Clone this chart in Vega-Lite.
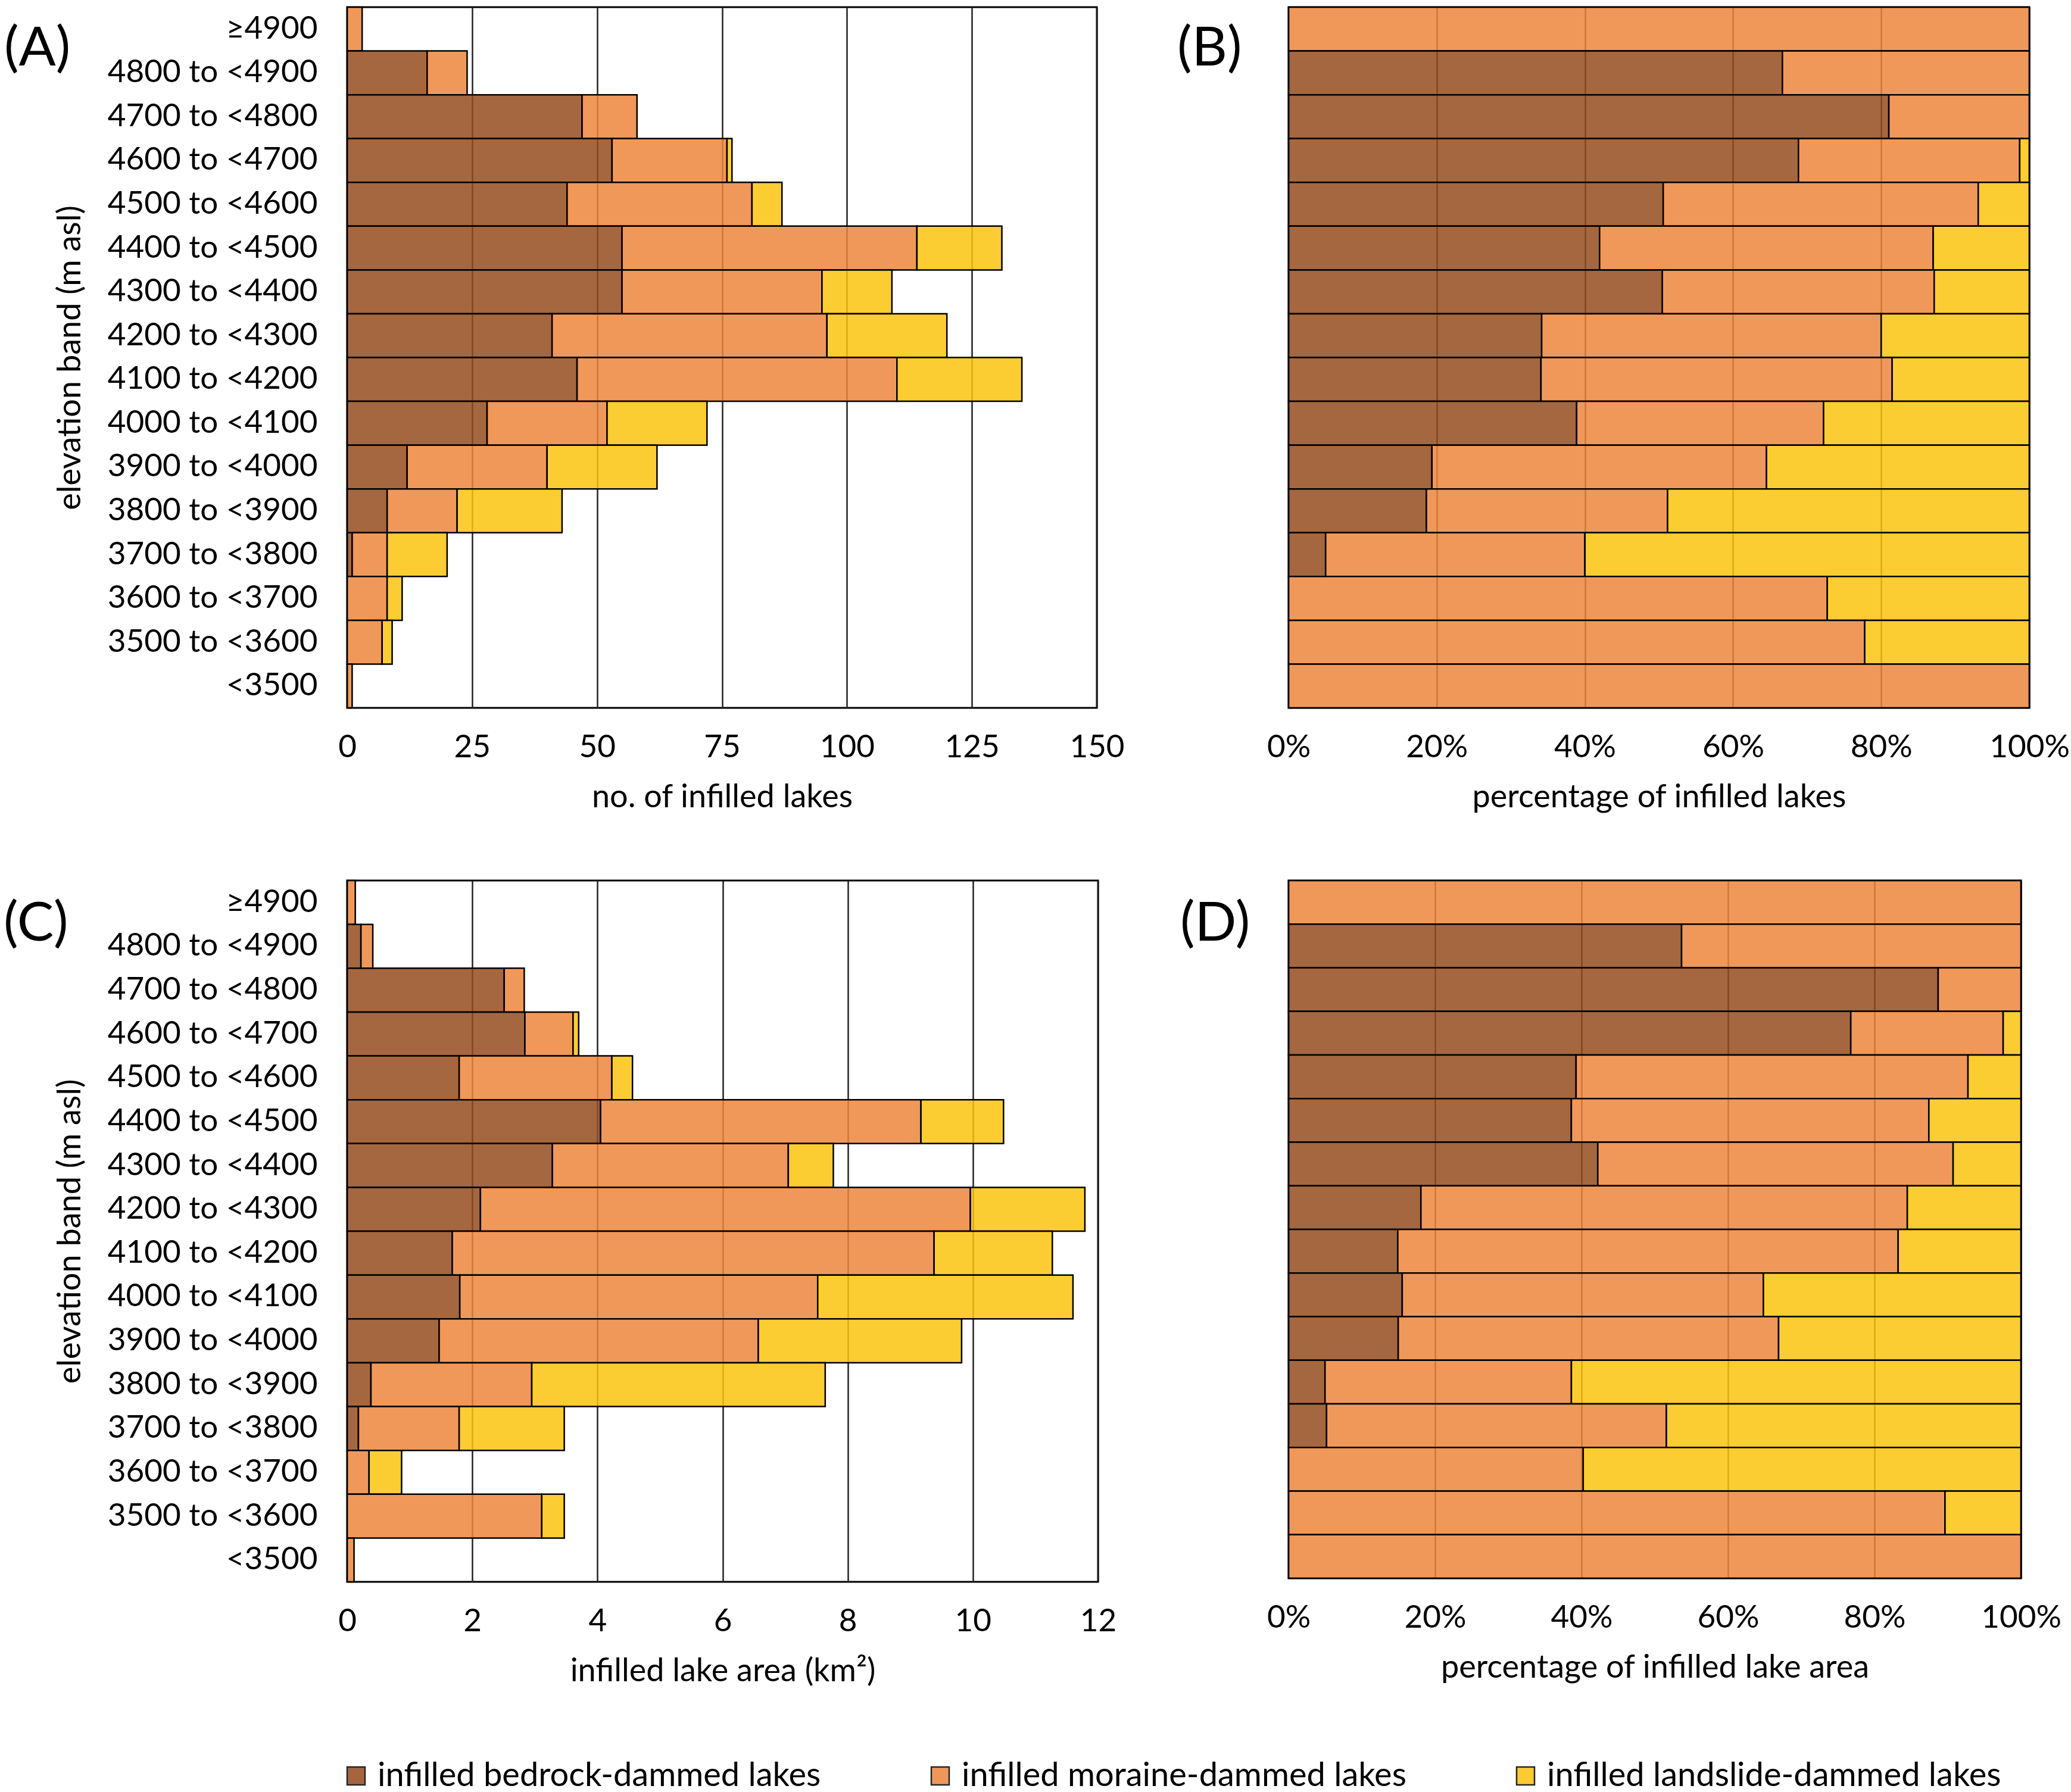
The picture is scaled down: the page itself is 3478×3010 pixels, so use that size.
{
  "$schema": "https://vega.github.io/schema/vega-lite/v6.json",
  "padding": {"left": 4, "top": 9, "right": 0, "bottom": 0},
  "background": "white",
  "data": {
    "values": [
      {"band": "≥4900", "dam": "infilled moraine-dammed lakes", "n": 3, "area": 0.13},
      {"band": "4800 to <4900", "dam": "infilled bedrock-dammed lakes", "n": 16, "area": 0.22},
      {"band": "4800 to <4900", "dam": "infilled moraine-dammed lakes", "n": 8, "area": 0.19},
      {"band": "4700 to <4800", "dam": "infilled bedrock-dammed lakes", "n": 47, "area": 2.51},
      {"band": "4700 to <4800", "dam": "infilled moraine-dammed lakes", "n": 11, "area": 0.32},
      {"band": "4600 to <4700", "dam": "infilled bedrock-dammed lakes", "n": 53, "area": 2.84},
      {"band": "4600 to <4700", "dam": "infilled moraine-dammed lakes", "n": 23, "area": 0.77},
      {"band": "4600 to <4700", "dam": "infilled landslide-dammed lakes", "n": 1, "area": 0.09},
      {"band": "4500 to <4600", "dam": "infilled bedrock-dammed lakes", "n": 44, "area": 1.79},
      {"band": "4500 to <4600", "dam": "infilled moraine-dammed lakes", "n": 37, "area": 2.44},
      {"band": "4500 to <4600", "dam": "infilled landslide-dammed lakes", "n": 6, "area": 0.33},
      {"band": "4400 to <4500", "dam": "infilled bedrock-dammed lakes", "n": 55, "area": 4.05},
      {"band": "4400 to <4500", "dam": "infilled moraine-dammed lakes", "n": 59, "area": 5.12},
      {"band": "4400 to <4500", "dam": "infilled landslide-dammed lakes", "n": 17, "area": 1.32},
      {"band": "4300 to <4400", "dam": "infilled bedrock-dammed lakes", "n": 55, "area": 3.28},
      {"band": "4300 to <4400", "dam": "infilled moraine-dammed lakes", "n": 40, "area": 3.77},
      {"band": "4300 to <4400", "dam": "infilled landslide-dammed lakes", "n": 14, "area": 0.72},
      {"band": "4200 to <4300", "dam": "infilled bedrock-dammed lakes", "n": 41, "area": 2.13},
      {"band": "4200 to <4300", "dam": "infilled moraine-dammed lakes", "n": 55, "area": 7.83},
      {"band": "4200 to <4300", "dam": "infilled landslide-dammed lakes", "n": 24, "area": 1.83},
      {"band": "4100 to <4200", "dam": "infilled bedrock-dammed lakes", "n": 46, "area": 1.68},
      {"band": "4100 to <4200", "dam": "infilled moraine-dammed lakes", "n": 64, "area": 7.70},
      {"band": "4100 to <4200", "dam": "infilled landslide-dammed lakes", "n": 25, "area": 1.89},
      {"band": "4000 to <4100", "dam": "infilled bedrock-dammed lakes", "n": 28, "area": 1.80},
      {"band": "4000 to <4100", "dam": "infilled moraine-dammed lakes", "n": 24, "area": 5.72},
      {"band": "4000 to <4100", "dam": "infilled landslide-dammed lakes", "n": 20, "area": 4.08},
      {"band": "3900 to <4000", "dam": "infilled bedrock-dammed lakes", "n": 12, "area": 1.47},
      {"band": "3900 to <4000", "dam": "infilled moraine-dammed lakes", "n": 28, "area": 5.10},
      {"band": "3900 to <4000", "dam": "infilled landslide-dammed lakes", "n": 22, "area": 3.25},
      {"band": "3800 to <3900", "dam": "infilled bedrock-dammed lakes", "n": 8, "area": 0.38},
      {"band": "3800 to <3900", "dam": "infilled moraine-dammed lakes", "n": 14, "area": 2.57},
      {"band": "3800 to <3900", "dam": "infilled landslide-dammed lakes", "n": 21, "area": 4.69},
      {"band": "3700 to <3800", "dam": "infilled bedrock-dammed lakes", "n": 1, "area": 0.18},
      {"band": "3700 to <3800", "dam": "infilled moraine-dammed lakes", "n": 7, "area": 1.61},
      {"band": "3700 to <3800", "dam": "infilled landslide-dammed lakes", "n": 12, "area": 1.68},
      {"band": "3600 to <3700", "dam": "infilled moraine-dammed lakes", "n": 8, "area": 0.35},
      {"band": "3600 to <3700", "dam": "infilled landslide-dammed lakes", "n": 3, "area": 0.52},
      {"band": "3500 to <3600", "dam": "infilled moraine-dammed lakes", "n": 7, "area": 3.11},
      {"band": "3500 to <3600", "dam": "infilled landslide-dammed lakes", "n": 2, "area": 0.36},
      {"band": "<3500", "dam": "infilled moraine-dammed lakes", "n": 1, "area": 0.11}
    ]
  },
  "columns": 2,
  "spacing": {"row": 290, "column": 320},
  "bounds": "flush",
  "concat": [
    {
      "width": 1259,
      "height": 1177,
      "title": {"text": "(A)", "anchor": "start", "frame": "group", "offset": -118, "dx": -576},
      "transform": [
        {"calculate": "indexof(['infilled bedrock-dammed lakes','infilled moraine-dammed lakes','infilled landslide-dammed lakes'], datum.dam)", "as": "rank"}
      ],
      "mark": {"type": "bar", "fillOpacity": 0.85, "stroke": "black", "strokeWidth": 2.5},
      "encoding": {
        "y": {
          "field": "band", "type": "nominal",
          "sort": ["≥4900", "4800 to <4900", "4700 to <4800", "4600 to <4700", "4500 to <4600", "4400 to <4500", "4300 to <4400", "4200 to <4300", "4100 to <4200", "4000 to <4100", "3900 to <4000", "3800 to <3900", "3700 to <3800", "3600 to <3700", "3500 to <3600", "<3500"],
          "scale": {"paddingInner": 0, "paddingOuter": 0},
          "axis": {"title": "elevation band (m asl)", "labelPadding": 50, "titlePadding": 40, "minExtent": 398, "maxExtent": 398}
        },
        "x": {
          "field": "n", "type": "quantitative", "stack": "zero",
          "scale": {"domain": [0, 150], "nice": false},
          "axis": {"title": "no. of infilled lakes", "values": [0, 25, 50, 75, 100, 125, 150], "grid": true}
        },
        "color": {
          "field": "dam", "type": "nominal",
          "scale": {
            "domain": ["infilled bedrock-dammed lakes", "infilled moraine-dammed lakes", "infilled landslide-dammed lakes"],
            "range": ["#944c1d", "#ed863d", "#fcc30f"]
          },
          "legend": {
            "title": null, "orient": "none", "direction": "horizontal",
            "legendX": -13, "legendY": 2943
          }
        },
        "order": {"field": "rank", "type": "quantitative"}
      }
    },
    {
      "width": 1244,
      "height": 1177,
      "title": {"text": "(B)", "anchor": "start", "frame": "group", "offset": -118, "dx": -187},
      "transform": [
        {"calculate": "indexof(['infilled bedrock-dammed lakes','infilled moraine-dammed lakes','infilled landslide-dammed lakes'], datum.dam)", "as": "rank"}
      ],
      "mark": {"type": "bar", "fillOpacity": 0.85, "stroke": "black", "strokeWidth": 2.5},
      "encoding": {
        "y": {
          "field": "band", "type": "nominal",
          "sort": ["≥4900", "4800 to <4900", "4700 to <4800", "4600 to <4700", "4500 to <4600", "4400 to <4500", "4300 to <4400", "4200 to <4300", "4100 to <4200", "4000 to <4100", "3900 to <4000", "3800 to <3900", "3700 to <3800", "3600 to <3700", "3500 to <3600", "<3500"],
          "scale": {"paddingInner": 0, "paddingOuter": 0},
          "axis": null
        },
        "x": {
          "field": "n", "type": "quantitative", "stack": "normalize",
          "scale": {"domain": [0, 1], "nice": false},
          "axis": {"title": "percentage of infilled lakes", "format": ".0%", "values": [0, 0.2, 0.4, 0.6, 0.8, 1], "grid": true}
        },
        "color": {"field": "dam", "type": "nominal"},
        "order": {"field": "rank", "type": "quantitative"}
      }
    },
    {
      "width": 1261,
      "height": 1178,
      "title": {"text": "(C)", "anchor": "start", "frame": "group", "offset": -121, "dx": -577},
      "transform": [
        {"calculate": "indexof(['infilled bedrock-dammed lakes','infilled moraine-dammed lakes','infilled landslide-dammed lakes'], datum.dam)", "as": "rank"}
      ],
      "mark": {"type": "bar", "fillOpacity": 0.85, "stroke": "black", "strokeWidth": 2.5},
      "encoding": {
        "y": {
          "field": "band", "type": "nominal",
          "sort": ["≥4900", "4800 to <4900", "4700 to <4800", "4600 to <4700", "4500 to <4600", "4400 to <4500", "4300 to <4400", "4200 to <4300", "4100 to <4200", "4000 to <4100", "3900 to <4000", "3800 to <3900", "3700 to <3800", "3600 to <3700", "3500 to <3600", "<3500"],
          "scale": {"paddingInner": 0, "paddingOuter": 0},
          "axis": {"title": "elevation band (m asl)", "labelPadding": 50, "titlePadding": 40, "minExtent": 398, "maxExtent": 398}
        },
        "x": {
          "field": "area", "type": "quantitative", "stack": "zero",
          "scale": {"domain": [0, 12], "nice": false},
          "axis": {"title": "infilled lake area (km²)", "values": [0, 2, 4, 6, 8, 10, 12], "grid": true}
        },
        "color": {"field": "dam", "type": "nominal"},
        "order": {"field": "rank", "type": "quantitative"}
      }
    },
    {
      "width": 1230,
      "height": 1172,
      "title": {"text": "(D)", "anchor": "start", "frame": "group", "offset": -121, "dx": -182},
      "transform": [
        {"calculate": "indexof(['infilled bedrock-dammed lakes','infilled moraine-dammed lakes','infilled landslide-dammed lakes'], datum.dam)", "as": "rank"}
      ],
      "mark": {"type": "bar", "fillOpacity": 0.85, "stroke": "black", "strokeWidth": 2.5},
      "encoding": {
        "y": {
          "field": "band", "type": "nominal",
          "sort": ["≥4900", "4800 to <4900", "4700 to <4800", "4600 to <4700", "4500 to <4600", "4400 to <4500", "4300 to <4400", "4200 to <4300", "4100 to <4200", "4000 to <4100", "3900 to <4000", "3800 to <3900", "3700 to <3800", "3600 to <3700", "3500 to <3600", "<3500"],
          "scale": {"paddingInner": 0, "paddingOuter": 0},
          "axis": null
        },
        "x": {
          "field": "area", "type": "quantitative", "stack": "normalize",
          "scale": {"domain": [0, 1], "nice": false},
          "axis": {"title": "percentage of infilled lake area", "format": ".0%", "values": [0, 0.2, 0.4, 0.6, 0.8, 1], "grid": true}
        },
        "color": {"field": "dam", "type": "nominal"},
        "order": {"field": "rank", "type": "quantitative"}
      }
    }
  ],
  "config": {
    "font": "Lato",
    "view": {"stroke": "black", "strokeWidth": 3},
    "title": {"fontSize": 92, "fontWeight": "normal", "color": "black"},
    "axis": {
      "domain": false,
      "ticks": false,
      "labelFontSize": 53,
      "labelColor": "black",
      "labelLimit": 1000,
      "titleFontSize": 54,
      "titleFontWeight": "normal",
      "titleColor": "black",
      "gridColor": "#222222",
      "gridWidth": 2.5,
      "gridOpacity": 1
    },
    "axisY": {"grid": false},
    "axisX": {"labelPadding": 40, "titlePadding": 30, "labelFlush": false},
    "legend": {
      "labelFontSize": 56,
      "labelColor": "black",
      "labelLimit": 2000,
      "symbolType": "square",
      "symbolSize": 900,
      "symbolStrokeColor": "black",
      "symbolStrokeWidth": 2.5,
      "symbolOpacity": 0.85,
      "labelOffset": 8,
      "columnPadding": 172
    }
  }
}
